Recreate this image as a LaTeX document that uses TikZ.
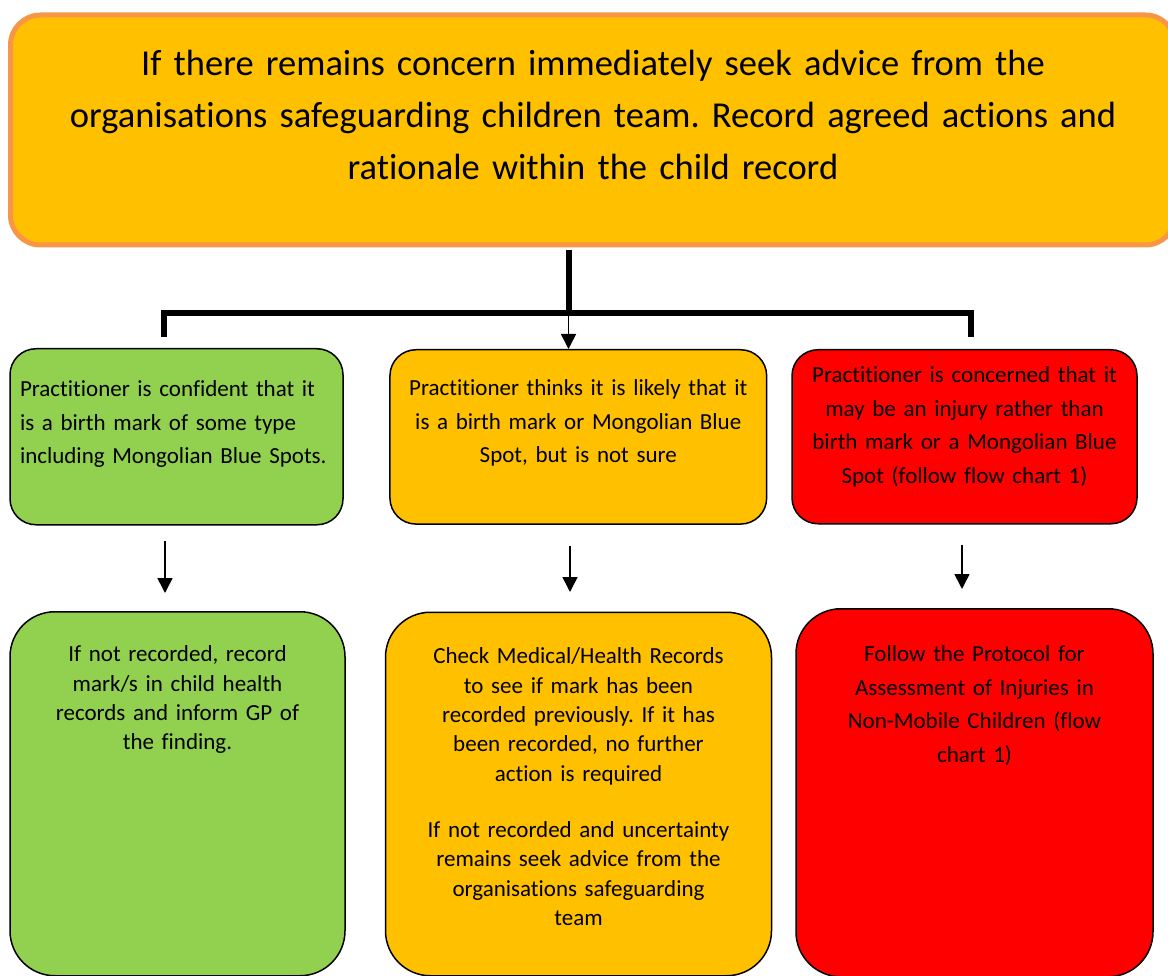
\documentclass[tikz,border=0pt]{standalone}
\usepackage{fontspec}
\setmainfont{Carlito}[Ligatures={NoCommon}]
\frenchspacing
\usetikzlibrary{arrows.meta,positioning}
\definecolor{amber}{HTML}{FFC000}
\definecolor{leaf}{HTML}{92D050}
\definecolor{alert}{HTML}{FF0000}
\definecolor{rim}{HTML}{F79646}
\tikzset{
  card/.style={draw=black, line width=1.5pt, inner ysep=0pt, anchor=north, align=center},
  upper/.style={card, rounded corners=26pt, inner xsep=10pt, font=\fontsize{23}{33.5}\selectfont},
  lower/.style={card, rounded corners=45pt, inner xsep=10pt, font=\fontsize{23}{29.4}\selectfont},
  bar/.style={line width=6pt},
  arr/.style={line width=1.6pt, -{Triangle[width=15pt,length=15pt]}},
}

\begin{document}
\begin{tikzpicture}[x=1pt,y=-1pt]
\useasboundingbox (0,0) rectangle (1168,976);
\clip (0,0) rectangle (1168,976);

% top box
\node[card, draw=rim, line width=5pt, fill=amber, rounded corners=30pt, inner xsep=20pt,
      text width=1125pt, text height=60.2pt, text depth=169.8pt,
      font=\fontsize{36.5}{52}\selectfont] (top) at (593,12.5)
  {If there remains concern immediately seek advice from the\\
   organisations safeguarding children team. Record agreed actions and\\
   rationale within the child record};

% first row
\node[upper, fill=leaf, align=left, text width=313pt, text height=48pt, text depth=128pt] (g1) at (176.5,348)
  {Practitioner is confident that it\\ is a birth mark of some type\\ including Mongolian Blue Spots.};
\node[upper, fill=amber, text width=356.7pt, text height=46pt, text depth=128.3pt] (y1) at (578.3,349)
  {Practitioner thinks it is likely that it\\ is a birth mark or Mongolian Blue\\ Spot, but is not sure};
\node[upper, fill=alert, text width=325pt, text height=33pt, text depth=141pt] (r1) at (964.5,349)
  {Practitioner is concerned that it\\ may be an injury rather than\\ birth mark or a Mongolian Blue\\ Spot (follow flow chart 1)};

% second row
\node[lower, fill=leaf, text width=315pt, text height=50pt, text depth=314pt] (g2) at (177.5,611)
  {If not recorded, record\\ mark/s in child health\\ records and inform GP of\\ the finding.};
\node[lower, fill=amber, text width=366pt, text height=51.5pt, text depth=312pt] (y2) at (578.5,611.5)
  {Check Medical/Health Records\\ to see if mark has been\\ recorded previously. If it has\\ been recorded, no further\\ action is required\\[26.6pt]
   If not recorded and uncertainty\\ remains seek advice from the\\ organisations safeguarding\\ team};
\node[lower, fill=alert, font=\fontsize{23}{33.7}\selectfont, text width=337pt, text height=52.7pt, text depth=315.3pt] (r2) at (974.5,608)
  {Follow the Protocol for\\ Assessment of Injuries in\\ Non-Mobile Children (flow\\ chart 1)};

% bracket
\coordinate (hub) at (568.5,313);
\coordinate (barL) at (164,313);
\coordinate (barR) at (971,313);
\coordinate (dropL) at (164,337);
\coordinate (dropR) at (971,337);
\draw[bar, shorten <=2.5pt] (top.south -| hub) -- (hub);
\draw[bar] (dropL) -- (barL) -- (barR) -- (dropR);
\draw[arr] (hub) -- (hub |- y1.north);

% down arrows
\draw[arr] ([xshift=-11.5pt,yshift=-15pt]g1.south) -- ([xshift=-12.5pt,yshift=18pt]g2.north);
\draw[arr] ([xshift=-8.3pt,yshift=-21.5pt]y1.south) -- ([xshift=-8.5pt,yshift=19.5pt]y2.north);
\draw[arr] ([xshift=-2.5pt,yshift=-20pt]r1.south) -- ([xshift=-12.5pt,yshift=19pt]r2.north);
\end{tikzpicture}
\end{document}
